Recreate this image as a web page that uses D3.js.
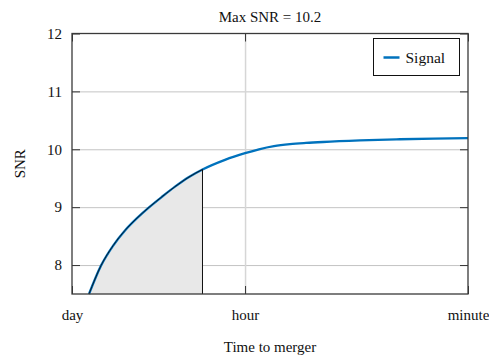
<!DOCTYPE html>
<html>
<head>
<meta charset="utf-8">
<script src="https://cdn.jsdelivr.net/npm/d3@7"></script>
<style>
  html, body { margin: 0; padding: 0; background: #fff; }
  svg text { font-family: "Liberation Serif", "Times New Roman", serif; fill: #111; }
</style>
</head>
<body>
<div id="chart"></div>
<script>
const chartEl = "#chart";
// time to merger in seconds (log axis)
const timeToMerger = [63220, 50730, 40690, 32650, 26180, 21010, 16550, 13030, 10080, 7866,
                      5202, 3600, 2787, 2115, 1577, 1176, 860, 436, 209, 112, 60];
const snrValues    = [7.5, 7.99, 8.333, 8.598, 8.811, 8.997, 9.18, 9.354, 9.521, 9.651,
                      9.818, 9.933, 10.0, 10.054, 10.088, 10.109, 10.126, 10.153, 10.173, 10.185, 10.194];
const shadeCut = 7866;  // shaded region ends here
const xTickValues = [86400, 3600, 60];
const xTickLabels = ["day", "hour", "minute"];
const yTickValues = [8, 9, 10, 11, 12];
const seriesName = "Signal";
const maxSnr = 10.2;

const width = 489;
const height = 358;
const margin = { top: 33.5, right: 21, bottom: 64, left: 72 };
const plotW = width - margin.left - margin.right;
const plotH = height - margin.top - margin.bottom;
const lineColor = "#0072bd";

var svg = d3.select(chartEl).append("svg")
    .attr("width", width)
    .attr("height", height);

var x = d3.scaleLog().domain([86400, 60]).range([0, plotW]);
var y = d3.scaleLinear().domain([7.5, 12]).range([plotH, 0]);

var g = svg.append("g")
    .attr("transform", "translate(" + margin.left + "," + margin.top + ")");

// gridlines
g.append("g")
    .attr("class", "grid")
    .call(d3.axisLeft(y).tickValues([8, 9, 10, 11]).tickSize(-plotW).tickFormat(""))
    .call(function(s) {
        s.select(".domain").remove();
        s.selectAll("line").attr("stroke", "#c4c4c4").attr("stroke-width", 1);
    });
g.append("g")
    .attr("class", "grid")
    .attr("transform", "translate(0," + plotH + ")")
    .call(d3.axisBottom(x).tickValues([3600]).tickSize(-plotH).tickFormat(""))
    .call(function(s) {
        s.select(".domain").remove();
        s.selectAll("line").attr("stroke", "#d6d6d6").attr("stroke-width", 1.5);
    });

var pts = timeToMerger.map(function(t, i) { return { t: t, v: snrValues[i] }; });
var shadePts = pts.filter(function(d) { return d.t >= shadeCut; });

// shaded area under the curve
var area = d3.area()
    .x(function(d) { return x(d.t); })
    .y0(plotH)
    .y1(function(d) { return y(d.v); })
    .curve(d3.curveMonotoneX);
g.append("path")
    .datum(shadePts)
    .attr("d", area)
    .attr("fill", "#e8e8e8");

var line = d3.line()
    .x(function(d) { return x(d.t); })
    .y(function(d) { return y(d.v); })
    .curve(d3.curveMonotoneX);

g.append("path")
    .datum(pts)
    .attr("d", line)
    .attr("fill", "none")
    .attr("stroke", lineColor)
    .attr("stroke-width", 2.3);

// dark outline of the shaded patch
g.append("path")
    .datum(shadePts)
    .attr("d", line)
    .attr("fill", "none")
    .attr("stroke", "#0a1a2a")
    .attr("stroke-width", 1);
g.append("line")
    .attr("x1", x(shadeCut)).attr("x2", x(shadeCut))
    .attr("y1", y(shadePts[shadePts.length - 1].v))
    .attr("y2", plotH)
    .attr("stroke", "#111")
    .attr("stroke-width", 1);

// axes (ticks pointing inward)
var axisColor = "#333";
function styleAxis(s) {
    s.select(".domain").remove();
    s.selectAll(".tick line").attr("stroke", axisColor).attr("stroke-width", 1);
    s.selectAll(".tick text").attr("font-size", 15).attr("fill", "#111")
        .attr("font-family", "Liberation Serif, Times New Roman, serif");
}
g.append("g")
    .call(d3.axisLeft(y).tickValues(yTickValues).tickSize(-8).tickPadding(10)
        .tickFormat(d3.format("d")))
    .call(styleAxis);
g.append("g")
    .attr("transform", "translate(" + plotW + ",0)")
    .call(d3.axisRight(y).tickValues(yTickValues).tickSize(-8).tickFormat(""))
    .call(styleAxis);
g.append("g")
    .attr("transform", "translate(0," + plotH + ")")
    .call(d3.axisBottom(x).tickValues(xTickValues).tickSize(-8).tickPadding(15)
        .tickFormat(function(d, i) { return xTickLabels[i]; }))
    .call(styleAxis);
g.append("g")
    .call(d3.axisTop(x).tickValues(xTickValues).tickSize(-8).tickFormat(""))
    .call(styleAxis);

// box
g.append("rect")
    .attr("width", plotW)
    .attr("height", plotH)
    .attr("fill", "none")
    .attr("stroke", "#3a3a3a")
    .attr("stroke-width", 1.3);

// title & labels
svg.append("text")
    .attr("x", margin.left + plotW / 2)
    .attr("y", 22)
    .attr("text-anchor", "middle")
    .attr("font-size", 15)
    .text("Max SNR = " + maxSnr);
svg.append("text")
    .attr("x", margin.left + plotW / 2)
    .attr("y", 352)
    .attr("text-anchor", "middle")
    .attr("font-size", 15)
    .text("Time to merger");
svg.append("text")
    .attr("transform", "translate(25," + (margin.top + plotH / 2) + ") rotate(-90)")
    .attr("text-anchor", "middle")
    .attr("font-size", 15)
    .text("SNR");

// legend
var legend = svg.append("g").attr("transform", "translate(373.5,38.5)");
legend.append("rect")
    .attr("width", 86)
    .attr("height", 37)
    .attr("fill", "#fff")
    .attr("stroke", "#111")
    .attr("stroke-width", 1);
legend.append("line")
    .attr("x1", 10).attr("x2", 26)
    .attr("y1", 19).attr("y2", 19)
    .attr("stroke", lineColor)
    .attr("stroke-width", 2.5);
legend.append("text")
    .attr("x", 32)
    .attr("y", 24)
    .attr("font-size", 15.5)
    .text(seriesName);
</script>
</body>
</html>
